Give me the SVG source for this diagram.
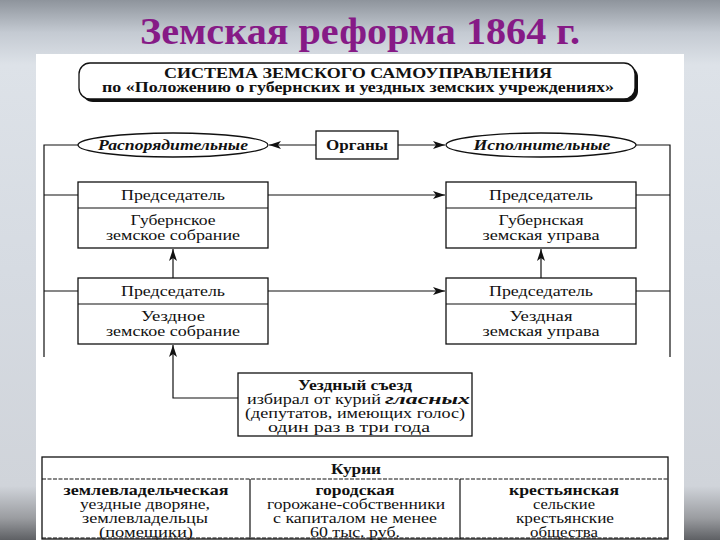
<svg xmlns="http://www.w3.org/2000/svg" width="720" height="540" viewBox="0 0 720 540">
<defs>
<linearGradient id="bg" x1="0" y1="0" x2="0" y2="1">
<stop offset="0" stop-color="#8e949c"/>
<stop offset="0.06" stop-color="#c4cad2"/>
<stop offset="0.12" stop-color="#dde2e8"/>
<stop offset="0.5" stop-color="#d6dbe2"/>
<stop offset="0.9" stop-color="#d0d4da"/>
<stop offset="0.96" stop-color="#9a9ca0"/>
<stop offset="1" stop-color="#5e6064"/>
</linearGradient>
<marker id="ah" viewBox="0 0 12 8" refX="12" refY="4" markerWidth="12" markerHeight="8" markerUnits="userSpaceOnUse" orient="auto">
<path d="M0,0 L12,4 L0,8 L3,4 Z" fill="#111"/>
</marker>
<style>
.bx{fill:#fff;stroke:#111;stroke-width:1.3}
.ln{fill:none;stroke:#111;stroke-width:1.2}
text{font-family:'Liberation Serif','DejaVu Serif',serif}
.t{font-size:14px;fill:#111;text-anchor:middle}
.s{font-size:14px;fill:#111;text-anchor:start}
.b{font-weight:bold}
.bi{font-weight:bold;font-style:italic}
</style>
</defs>
<rect x="0" y="0" width="720" height="540" fill="url(#bg)"/>
<rect x="36" y="54" width="648" height="486" fill="#fff"/>
<g font-family="Liberation Serif, DejaVu Serif, serif">
<text x="360" y="44" font-size="37" font-weight="bold" fill="#861a86" text-anchor="middle" textLength="440" lengthAdjust="spacingAndGlyphs">Земская реформа 1864 г.</text>

<g id="header">
<rect x="82" y="66" width="556" height="36" rx="11" fill="#111"/>
<rect x="79" y="63" width="556" height="36" rx="11" class="bx" stroke-width="1.5"/>
<text x="358" y="78" class="t b" font-size="12.5" textLength="388" lengthAdjust="spacingAndGlyphs">СИСТЕМА ЗЕМСКОГО САМОУПРАВЛЕНИЯ</text>
<text x="358" y="92" class="t b" font-size="12" textLength="512" lengthAdjust="spacingAndGlyphs">по «Положению о губернских и уездных земских учреждениях»</text>
</g>

<g id="connectors">
<polyline class="ln" points="78,145 44,145 44,357"/>
<polyline class="ln" points="636,145 670,145 670,357"/>
<line class="ln" x1="44" y1="195" x2="78" y2="195"/>
<line class="ln" x1="44" y1="291" x2="78" y2="291"/>
<line class="ln" x1="636" y1="195" x2="670" y2="195"/>
<line class="ln" x1="636" y1="291" x2="670" y2="291"/>
<line class="ln" x1="316" y1="145" x2="269" y2="145" marker-end="url(#ah)"/>
<line class="ln" x1="398" y1="145" x2="445" y2="145" marker-end="url(#ah)"/>
<line class="ln" x1="268" y1="195" x2="445" y2="195" marker-end="url(#ah)"/>
<line class="ln" x1="268" y1="291" x2="445" y2="291" marker-end="url(#ah)"/>
<line class="ln" x1="173" y1="278" x2="173" y2="249" marker-end="url(#ah)"/>
<line class="ln" x1="541" y1="278" x2="541" y2="249" marker-end="url(#ah)"/>
<polyline class="ln" points="238,398 173,398 173,345" marker-end="url(#ah)"/>
</g>

<g id="rasp">
<ellipse cx="173" cy="145" rx="95" ry="12" class="bx"/>
<text x="173" y="149.5" class="t bi" font-size="13" textLength="150" lengthAdjust="spacingAndGlyphs">Распорядительные</text>
</g>
<g id="organy">
<rect x="316" y="131" width="82" height="28" class="bx" stroke-width="1.5"/>
<text x="357" y="150" class="t b" textLength="62" lengthAdjust="spacingAndGlyphs">Органы</text>
</g>
<g id="ispoln">
<ellipse cx="541" cy="145" rx="95" ry="12" class="bx"/>
<text x="542" y="149.5" class="t bi" font-size="13" textLength="137" lengthAdjust="spacingAndGlyphs">Исполнительные</text>
</g>

<g id="gub-sobr">
<rect x="78" y="182" width="190" height="66" class="bx"/>
<line class="ln" x1="78" y1="208" x2="268" y2="208"/>
<text x="173" y="200" class="t" textLength="104" lengthAdjust="spacingAndGlyphs">Председатель</text>
<text x="173" y="225" class="t" textLength="85" lengthAdjust="spacingAndGlyphs">Губернское</text>
<text x="173" y="240" class="t" textLength="134" lengthAdjust="spacingAndGlyphs">земское собрание</text>
</g>
<g id="gub-uprava">
<rect x="446" y="182" width="190" height="66" class="bx"/>
<line class="ln" x1="446" y1="208" x2="636" y2="208"/>
<text x="541" y="200" class="t" textLength="104" lengthAdjust="spacingAndGlyphs">Председатель</text>
<text x="541" y="225" class="t" textLength="85" lengthAdjust="spacingAndGlyphs">Губернская</text>
<text x="541" y="240" class="t" textLength="117" lengthAdjust="spacingAndGlyphs">земская управа</text>
</g>
<g id="uezd-sobr">
<rect x="78" y="278" width="190" height="66" class="bx"/>
<line class="ln" x1="78" y1="304" x2="268" y2="304"/>
<text x="173" y="296" class="t" textLength="104" lengthAdjust="spacingAndGlyphs">Председатель</text>
<text x="173" y="321" class="t" textLength="64" lengthAdjust="spacingAndGlyphs">Уездное</text>
<text x="173" y="336" class="t" textLength="134" lengthAdjust="spacingAndGlyphs">земское собрание</text>
</g>
<g id="uezd-uprava">
<rect x="446" y="278" width="190" height="66" class="bx"/>
<line class="ln" x1="446" y1="304" x2="636" y2="304"/>
<text x="541" y="296" class="t" textLength="104" lengthAdjust="spacingAndGlyphs">Председатель</text>
<text x="541" y="321" class="t" textLength="63" lengthAdjust="spacingAndGlyphs">Уездная</text>
<text x="541" y="336" class="t" textLength="117" lengthAdjust="spacingAndGlyphs">земская управа</text>
</g>

<g id="sezd">
<rect x="238" y="373" width="234" height="63" class="bx"/>
<text x="355" y="390" class="t b" textLength="114" lengthAdjust="spacingAndGlyphs">Уездный съезд</text>
<text x="247" y="404" class="s" textLength="134" lengthAdjust="spacingAndGlyphs">избирал от курий</text>
<text x="385" y="404" class="s bi" textLength="85" lengthAdjust="spacingAndGlyphs">гласных</text>
<text x="355" y="418" class="t" textLength="220" lengthAdjust="spacingAndGlyphs">(депутатов, имеющих голос)</text>
<text x="349" y="432" class="t" textLength="162" lengthAdjust="spacingAndGlyphs">один раз в три года</text>
</g>

<g id="kurii">
<rect x="42" y="457" width="626" height="82" class="bx"/>
<line class="ln" x1="42" y1="479" x2="668" y2="479" stroke-dasharray="4 1.5"/>
<line class="ln" x1="250" y1="479" x2="250" y2="539"/>
<line class="ln" x1="460" y1="479" x2="460" y2="539"/>
<line class="ln" x1="42" y1="538" x2="668" y2="538" stroke-dasharray="4 1.5"/>
<text x="356" y="474" class="t b" textLength="50" lengthAdjust="spacingAndGlyphs">Курии</text>
<text x="146" y="495" class="t b" textLength="165" lengthAdjust="spacingAndGlyphs">землевладельческая</text>
<text x="145" y="509" class="t" textLength="130" lengthAdjust="spacingAndGlyphs">уездные дворяне,</text>
<text x="145" y="523" class="t" textLength="126" lengthAdjust="spacingAndGlyphs">землевладельцы</text>
<text x="146" y="537" class="t" textLength="94" lengthAdjust="spacingAndGlyphs">(помещики)</text>
<text x="355" y="495" class="t b" textLength="79" lengthAdjust="spacingAndGlyphs">городская</text>
<text x="356" y="509" class="t" textLength="178" lengthAdjust="spacingAndGlyphs">горожане-собственники</text>
<text x="355" y="523" class="t" textLength="164" lengthAdjust="spacingAndGlyphs">с капиталом не менее</text>
<text x="355" y="537" class="t" textLength="90" lengthAdjust="spacingAndGlyphs">60 тыс. руб.</text>
<text x="564" y="495" class="t b" textLength="110" lengthAdjust="spacingAndGlyphs">крестьянская</text>
<text x="564" y="509" class="t" textLength="62" lengthAdjust="spacingAndGlyphs">сельские</text>
<text x="565" y="523" class="t" textLength="98" lengthAdjust="spacingAndGlyphs">крестьянские</text>
<text x="564" y="537" class="t" textLength="68" lengthAdjust="spacingAndGlyphs">общества</text>
</g>
</g>
</svg>
